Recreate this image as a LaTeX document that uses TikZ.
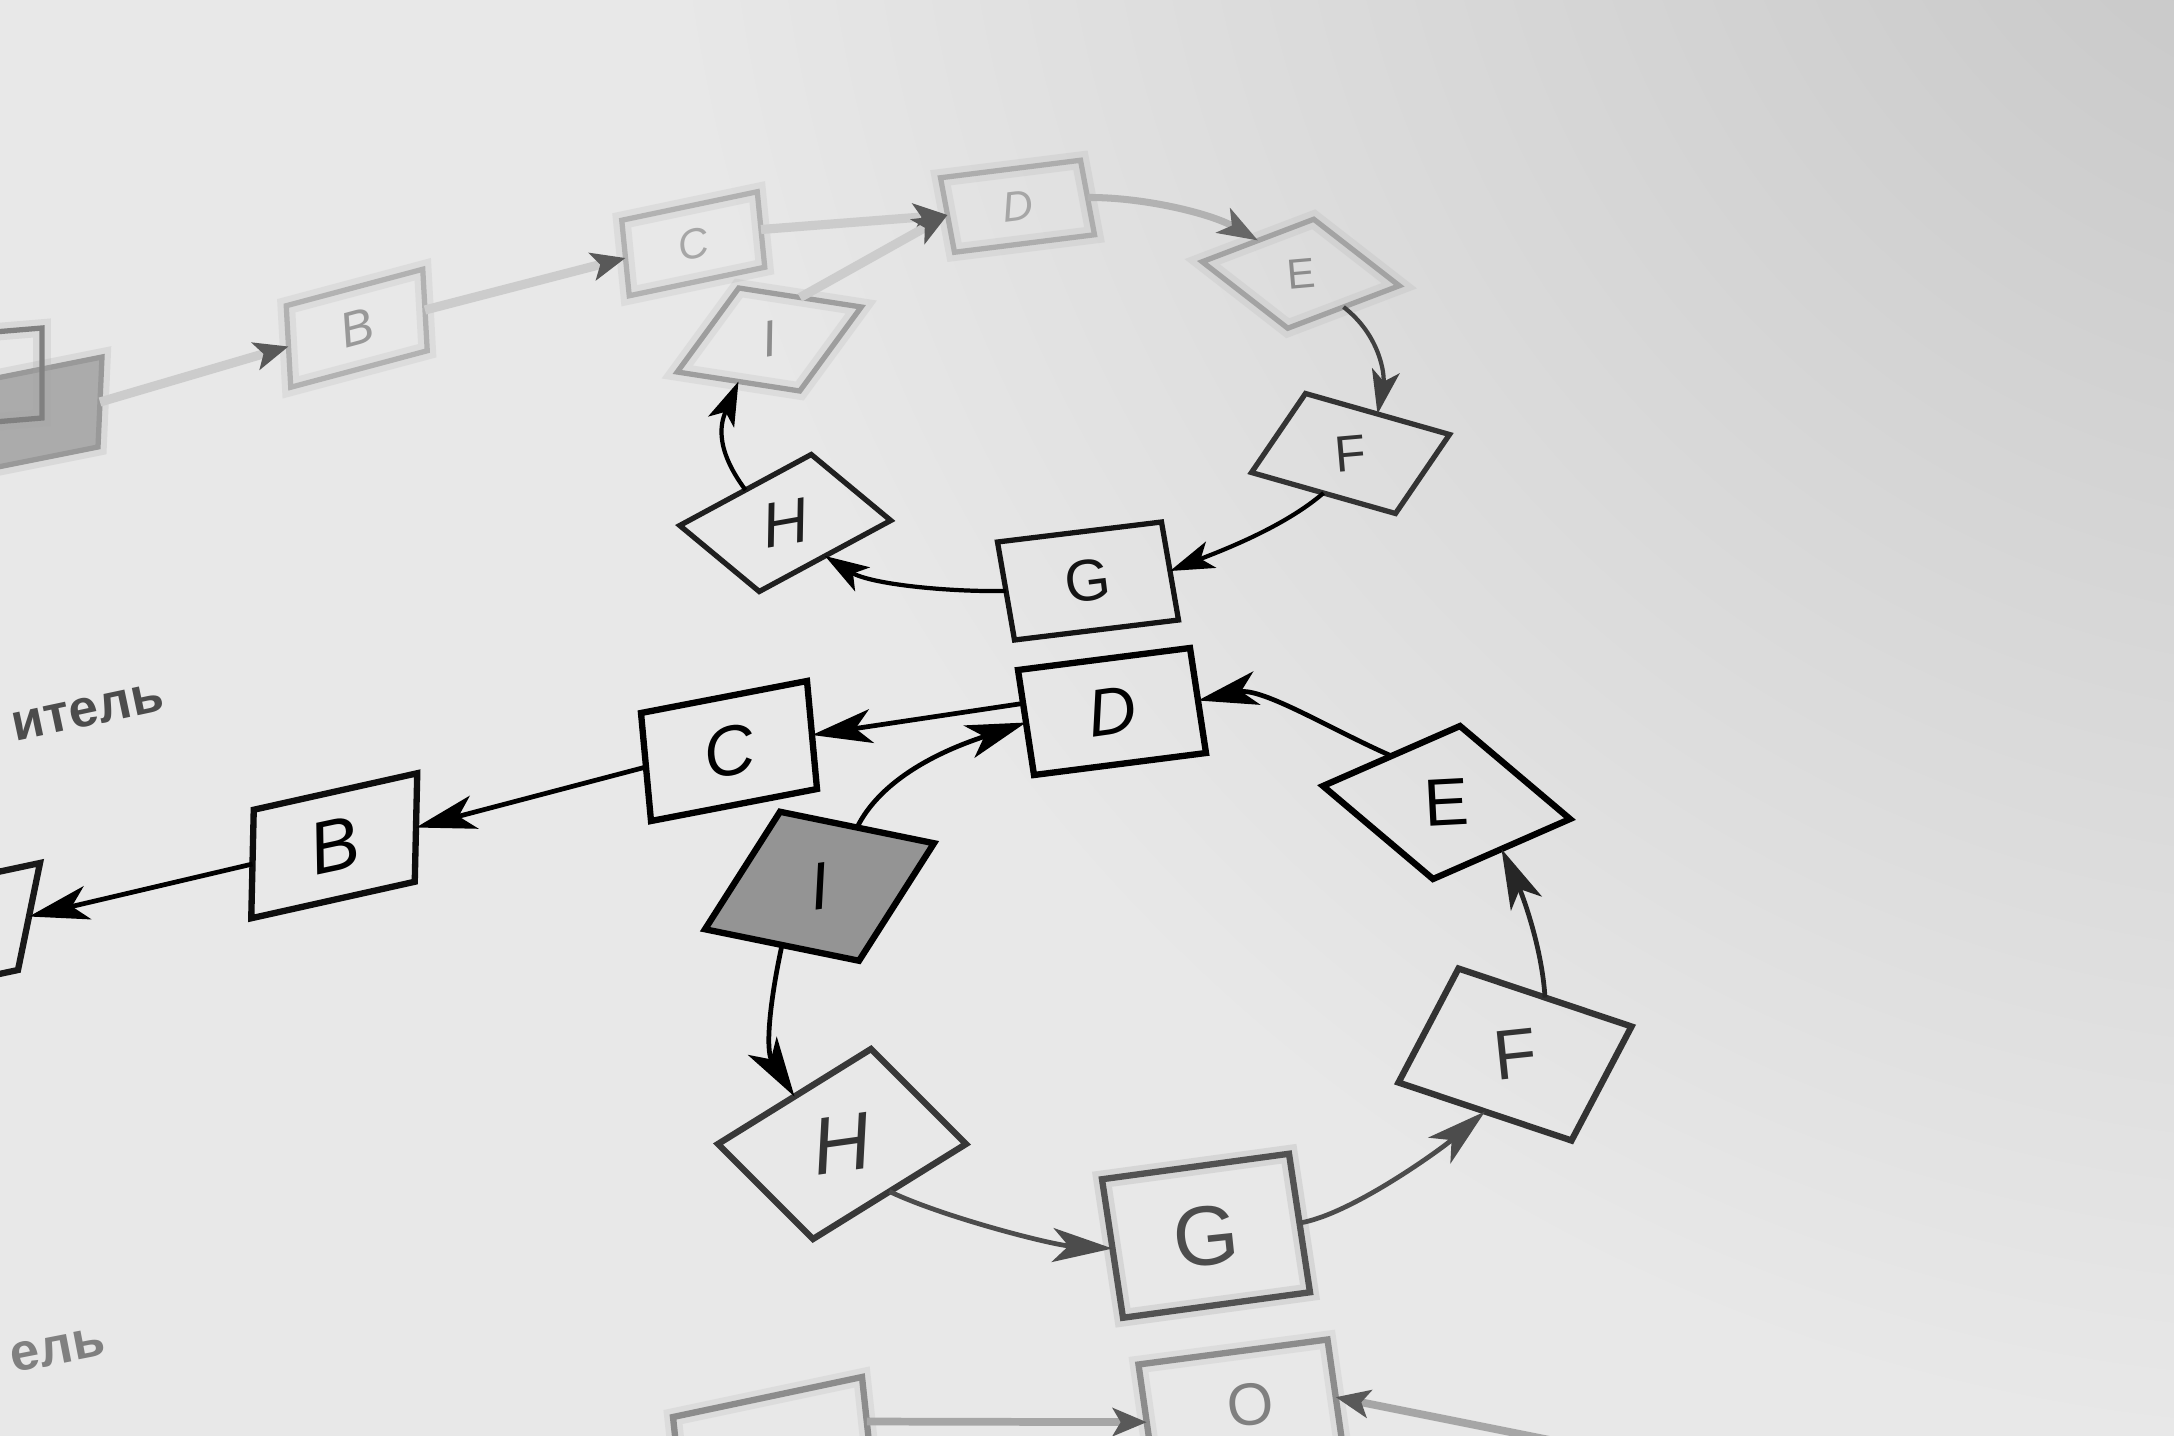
\documentclass[tikz,border=0pt]{standalone}
\usepackage{fontspec}
\setmainfont{Liberation Sans}
\usetikzlibrary{arrows.meta}
\newcommand{\lfs}[1]{\fontsize{#1}{#1}\selectfont}
\definecolor{pagebg}{RGB}{232,232,232}
\definecolor{pagedark}{RGB}{196,196,196}
\begin{document}
\begin{tikzpicture}[x=0.1mm, y=-0.1mm,
  bx/.style={draw, rectangle, minimum width=1cm, minimum height=1cm, inner sep=0pt, outer sep=0pt, line width=1.8pt},
  bxt/.style={bx, line width=1.5pt},
  fuzz/.style={preaction={draw=#1, line width=5pt, draw opacity=0.22}},
  lb/.style={inner sep=0pt, outer sep=0pt},
  arb/.style={line width=1.35pt, -{Stealth[length=6mm,width=3.4mm,inset=1.6mm]}},
  art/.style={line width=1.2pt, -{Stealth[length=4.4mm,width=2.8mm,inset=1.1mm]}},
  artf/.style={line width=2.6pt, draw=black!20, -{Stealth[length=3.4mm,width=2.8mm,inset=0.8mm,color=black!65]}},
]
\useasboundingbox (0,0) rectangle (2174,1436);
\clip (0,0) rectangle (2174,1436);
\fill[pagebg] (0,0) rectangle (2174,1436);
\shade[inner color=pagedark, outer color=pagebg] (2350,-250) circle (1700);

% page text fragments
\node[lb, rotate=12, font=\lfs{15}\bfseries, text=black!70] (t1) at (88,712) {итель};
\node[lb, rotate=11, font=\lfs{15}\bfseries, text=black!50] (t2) at (58,1350) {ель};

% ---------- upper (out of focus) diagram ----------
\node[bxt, draw=black!40, fill=black!33, fuzz=black!35, cm={1.5,0.3,0.04,0.9,(0,0)}] (At) at (25,417) {};
\node[bxt, draw=black!50, fuzz=black!35, cm={1.2,0.1,0,0.9,(0,0)}] (At2) at (-18,378) {};
\node[bxt, draw=black!30, fuzz=black!30, cm={1.365,0.365,-0.045,0.815,(0,0)}] (Bt) at (356.75,328.25) {};
\node[bxt, draw=black!30, fuzz=black!30, cm={1.355,0.285,-0.075,0.755,(0,0)}] (Ct) at (693.25,243.75) {};
\node[bxt, draw=black!32, fuzz=black!30, cm={1.40,0.175,-0.14,0.745,(0,0)}] (Dt) at (1017.5,206.25) {};
\node[bxt, draw=black!36, fuzz=black!30, cm={1.115,0.425,-0.855,0.665,(0,0)}] (Et) at (1300.75,273.75) {};
\node[bxt, draw=black!80, cm={1.44,-0.41,0.54,0.79,(0,0)}] (Ft) at (1350.5,453.5) {};
\node[bxt, draw=black!92, cm={1.64,0.20,-0.17,0.98,(0,0)}] (Gt) at (1088,581) {};
\node[bxt, draw=black!88, cm={1.315,0.71,-0.795,0.66,(0,0)}] (Ht) at (785.25,523) {};
\node[bxt, draw=black!38, fuzz=black!30, cm={1.225,-0.19,0.615,0.84,(0,0)}] (It) at (769.25,339.5) {};

\node[lb, rotate=15, font=\lfs{14}\itshape, text=black!40] (Btl) at (Bt.center) {B};
\node[lb, rotate=12, font=\lfs{12}\itshape, text=black!35] (Ctl) at (Ct.center) {C};
\node[lb, rotate=7, font=\lfs{12}\itshape, text=black!35] (Dtl) at (Dt.center) {D};
\node[lb, rotate=5, font=\lfs{12}, text=black!45] (Etl) at (Et.center) {E};
\node[lb, rotate=5, font=\lfs{14.5}, text=black!80] (Ftl) at (Ft.center) {F};
\node[lb, rotate=7, font=\lfs{16.7}, text=black!92] (Gtl) at (Gt.center) {G};
\node[lb, rotate=10, font=\lfs{18}\itshape, text=black!88] (Htl) at (Ht.center) {H};
\node[lb, rotate=10, font=\lfs{14.5}\itshape, text=black!45] (Itl) at (It.center) {I};

\draw[artf] (At.east) -- (Bt.west);
\draw[artf] (Bt.east) -- (Ct.west);
\draw[artf] (Ct.east) -- (Dt.west);
\draw[artf] (It.north) -- (Dt.west);
\draw[art, line width=2pt, draw=black!30, -{Stealth[length=4mm,width=2.8mm,inset=1mm,color=black!60]}]
  (Dt.east) .. controls (1142,197) and (1210,213) .. (Et.north);
\draw[art, draw=black!75] (Et.south) .. controls (1380,335) and (1385,375) .. (Ft.north);
\draw[art] (Ft.south) .. controls (1283,528) and (1218,552) .. (Gt.east);
\draw[art] (Gt.west) .. controls (946,592) and (870,584) .. (Ht.south);
\draw[art] (Ht.north) .. controls (712,445) and (722,420) .. (It.south);

% ---------- lower (sharp) diagram ----------
\node[bx, draw=black!90, cm={1.55,0.33,0.22,1.07,(0,0)}] (Ab) at (-48.5,933) {};
\node[bx, draw=black!95, cm={1.635,0.365,0.025,1.085,(0,0)}] (Bb) at (334.25,845.75) {};
\node[bx, cm={1.66,0.32,-0.10,1.08,(0,0)}] (Cb) at (729,751) {};
\node[bx, cm={1.72,0.22,-0.16,1.05,(0,0)}] (Db) at (1112,711.5) {};
\node[bx, cm={1.37,0.60,-1.10,0.93,(0,0)}] (Eb) at (1446.5,802.5) {};
\node[bx, draw=black!80, cm={1.73,-0.58,0.60,1.14,(0,0)}] (Fb) at (1515,1054.5) {};
\node[bx, draw=black!68, fuzz=black!40, cm={1.87,0.255,-0.21,1.385,(0,0)}] (Gb) at (1206,1235.75) {};
\node[bx, draw=black!78, cm={1.53,0.95,-0.95,0.95,(0,0)}] (Hb) at (842,1144) {};
\node[bx, fill=black!42, cm={1.54,-0.315,0.75,1.175,(0,0)}] (Ib) at (819.5,886.25) {};
\node[bx, draw=black!45, fuzz=black!30, cm={1.89,0.40,-0.15,1.40,(0,0)}] (Pb) at (775,1467) {};
\node[bx, draw=black!45, fuzz=black!30, cm={1.89,0.25,-0.20,1.40,(0,0)}] (Qb) at (1243,1422) {};
\coordinate (Rb) at (1600,1450);

\node[lb, rotate=12, font=\lfs{21}\itshape] (Bbl) at (Bb.center) {B};
\node[lb, rotate=10, font=\lfs{20}\itshape] (Cbl) at (Cb.center) {C};
\node[lb, rotate=8, font=\lfs{19}\itshape] (Dbl) at (Db.center) {D};
\node[lb, rotate=3, font=\lfs{19}] (Ebl) at (Eb.center) {E};
\node[lb, rotate=6, font=\lfs{20}, text=black!80] (Fbl) at (Fb.center) {F};
\node[lb, rotate=6, font=\lfs{24}, text=black!70] (Gbl) at (Gb.center) {G};
\node[lb, rotate=8, font=\lfs{23}\itshape, text=black!80] (Hbl) at (Hb.center) {H};
\node[lb, rotate=8, font=\lfs{19}\itshape] (Ibl) at (Ib.center) {I};
\node[lb, rotate=6, font=\lfs{17}, text=black!50] (Qbl) at (1250,1405) {O};

\draw[arb] (Db.160) -- (Cb.east);
\draw[arb] (Cb.west) -- (Bb.east);
\draw[arb] (Bb.west) -- (Ab.east);
\draw[arb] (Ib.north) .. controls (886,769) and (965,743) .. (Db.west);
\draw[arb] (Eb.north) .. controls (1332,730) and (1262,687) .. (Db.east);
\draw[arb, draw=black!85] (Fb.north) .. controls (1542,947) and (1522,894) .. (Eb.south);
\draw[arb, draw=black!70] (Gb.east) .. controls (1350,1215) and (1440,1150) .. (Fb.south);
\draw[arb, draw=black!70] (Hb.south) .. controls (943,1217) and (1052,1245) .. (Gb.west);
\draw[arb] (Ib.south) .. controls (770,1000) and (765,1050) .. (Hb.north);
\draw[artf, line width=2.2pt, draw=black!35] (Pb.20) -- (Qb.170);
\draw[artf, line width=2.2pt, draw=black!35] (Rb) -- (Qb.10);
\end{tikzpicture}
\end{document}
